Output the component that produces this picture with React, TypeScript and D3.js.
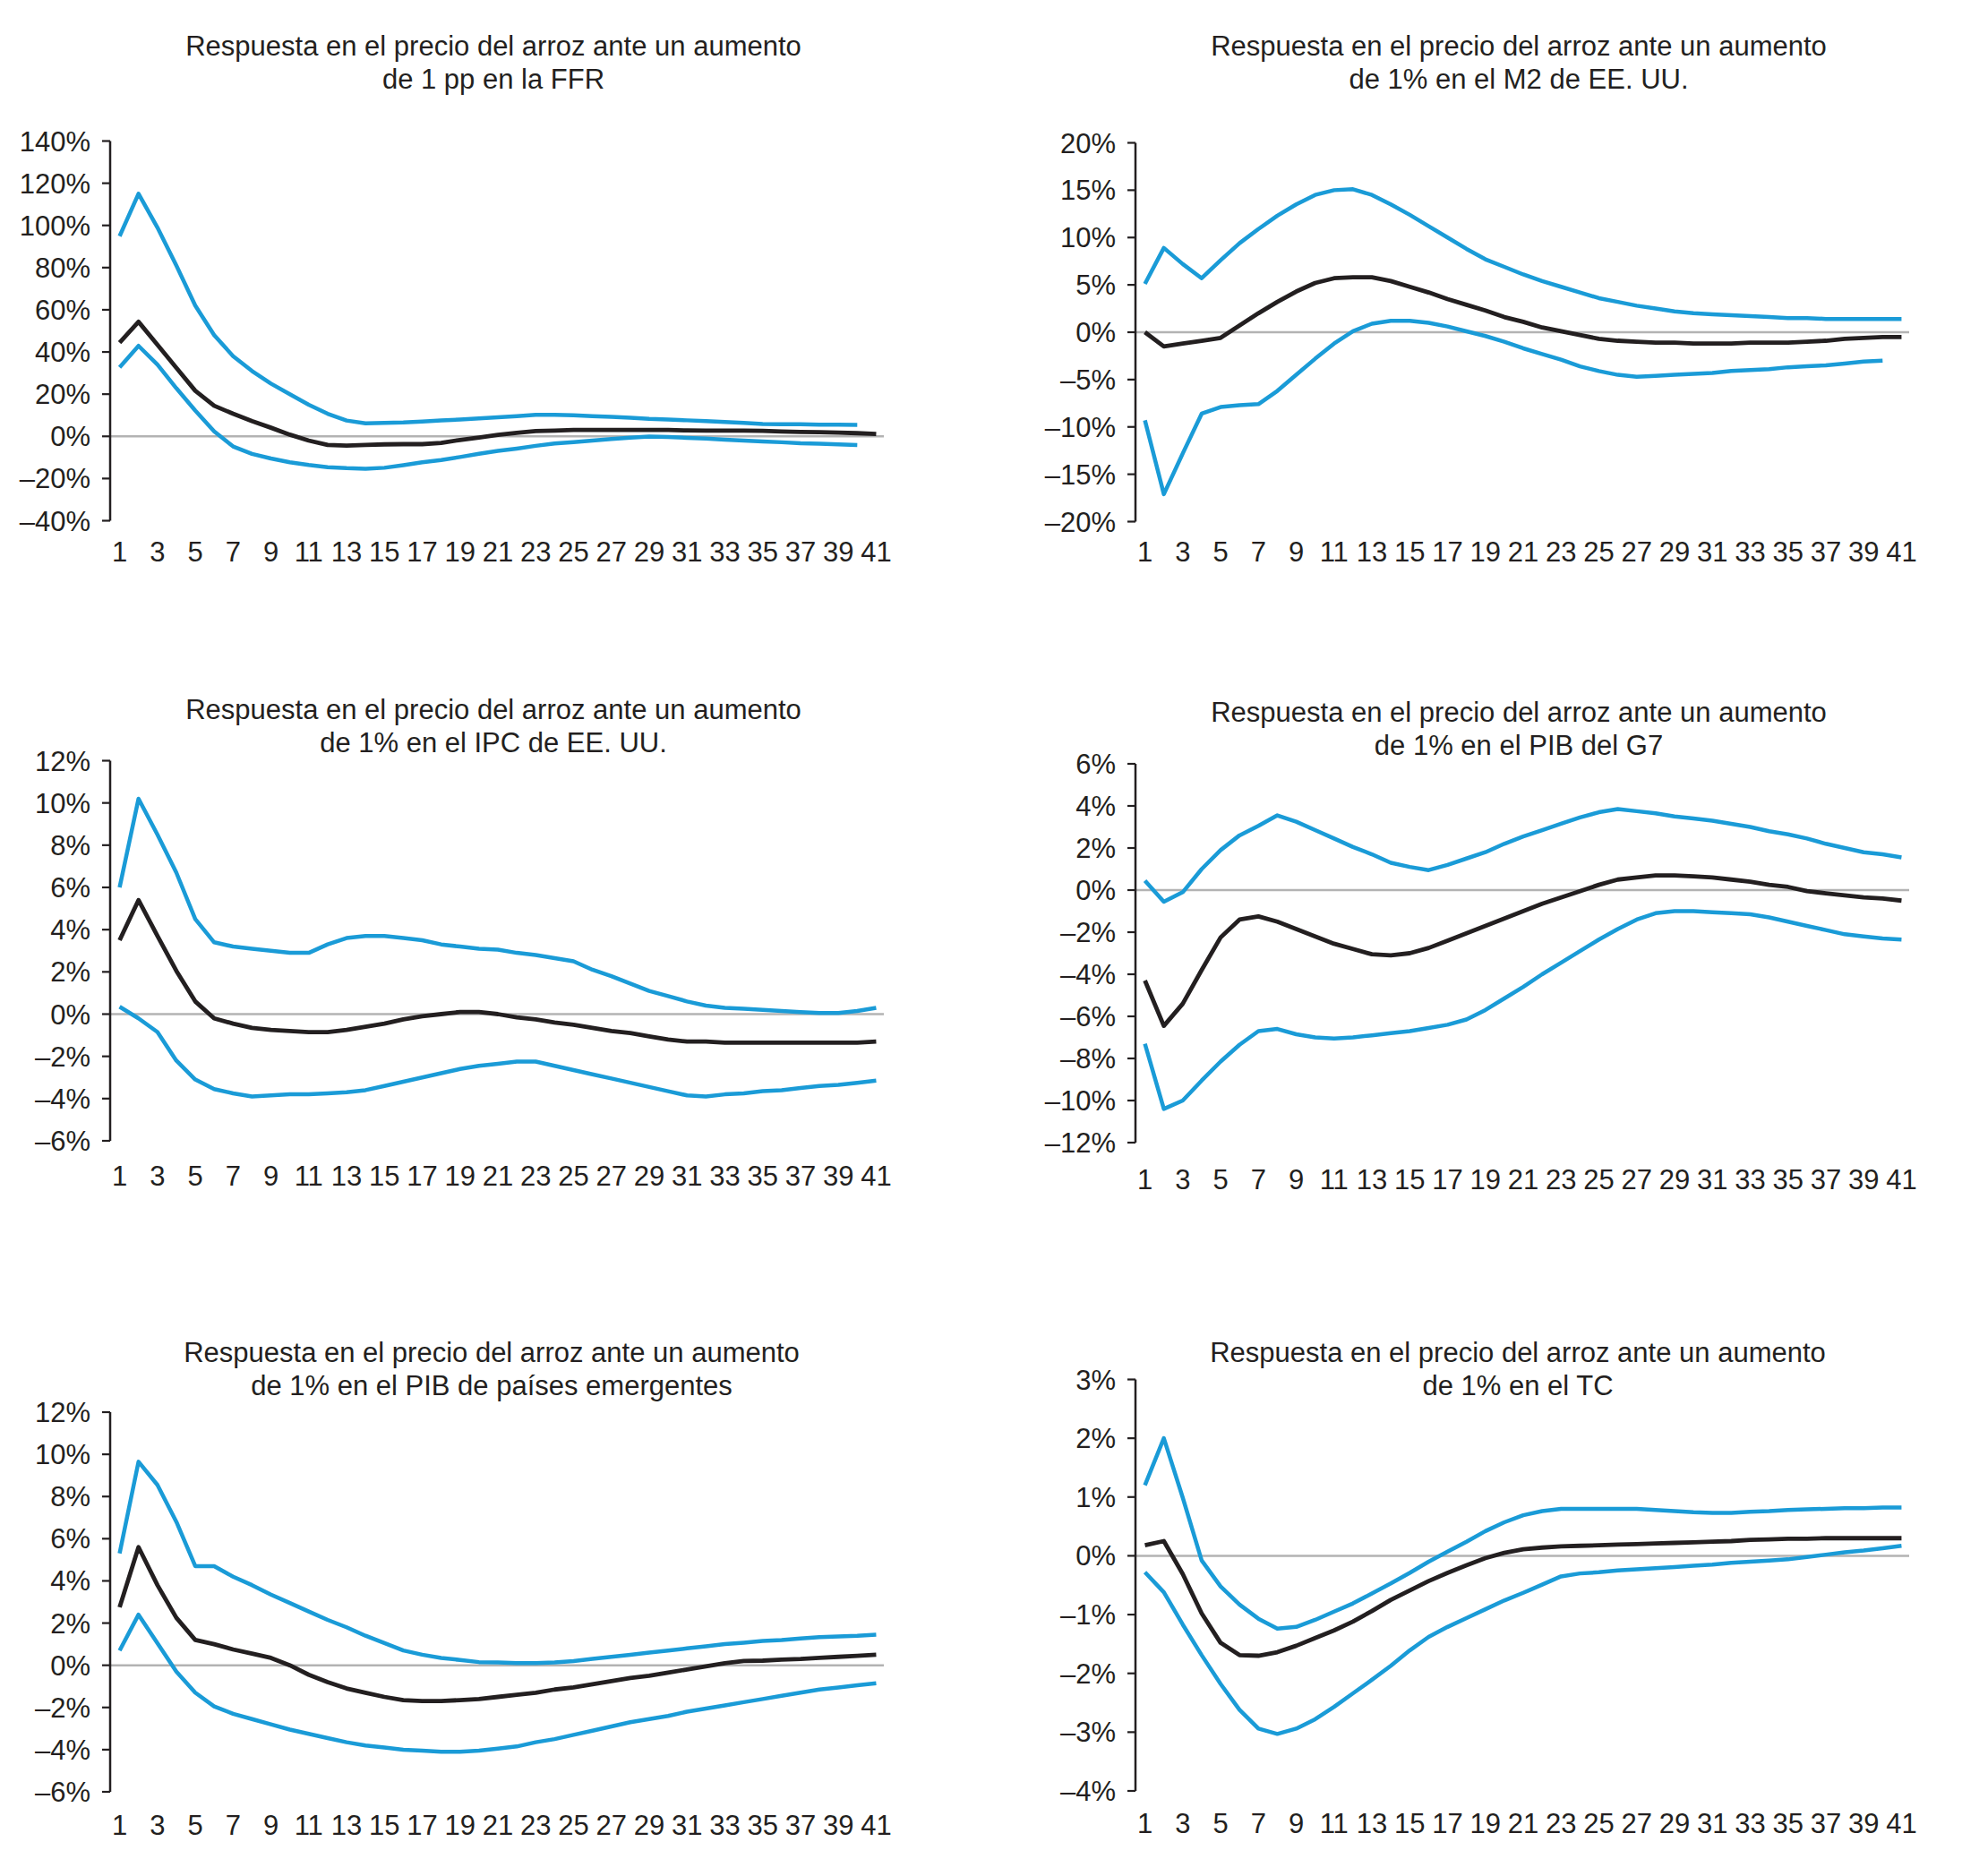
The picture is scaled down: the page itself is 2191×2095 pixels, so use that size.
import { scaleLinear, scalePoint, line, curveLinear, range } from "d3";

// horizon 1..41, odd labels only
const periods = range(1, 42);
const xTickLabels = periods.filter((p) => p % 2 === 1);

// --- FFR ---
const ffrUpper = [94.9, 115, 99, 81, 62, 48, 38, 31, 25, 20, 15, 10.7, 7.5, 6.2, 6.4, 6.6, 7, 7.5, 8, 8.5, 9, 9.6, 10.2, 10.2, 10, 9.6, 9.2, 8.8, 8.3, 8, 7.6, 7.2, 6.8, 6.4, 5.9, 5.7, 5.7, 5.5, 5.5, 5.4];
const ffrMid = [44.4, 54.3, 43.4, 32.5, 21.6, 14.5, 10.7, 7.2, 4.1, 0.8, -2, -4.1, -4.4, -4.1, -3.8, -3.7, -3.7, -3.1, -1.7, -0.6, 0.7, 1.7, 2.5, 2.7, 3, 3, 3, 3, 3, 3, 2.8, 2.7, 2.7, 2.7, 2.6, 2.3, 2.1, 2, 1.8, 1.5, 1.1];
const ffrLower = [32.7, 42.9, 34, 22.8, 12.2, 2.3, -4.8, -8.3, -10.5, -12.3, -13.6, -14.6, -15.1, -15.4, -14.9, -13.7, -12.3, -11.2, -9.8, -8.3, -6.9, -5.8, -4.5, -3.4, -2.7, -2, -1.3, -0.6, -0.1, -0.3, -0.7, -1.1, -1.6, -2, -2.4, -2.8, -3.3, -3.5, -3.8, -4.1];

// --- M2 ---
const m2Upper = [5.1, 8.9, 7.2, 5.7, 7.6, 9.4, 10.9, 12.3, 13.5, 14.5, 15, 15.1, 14.5, 13.5, 12.4, 11.2, 10, 8.8, 7.7, 6.9, 6.1, 5.4, 4.8, 4.2, 3.6, 3.2, 2.8, 2.5, 2.2, 2, 1.9, 1.8, 1.7, 1.6, 1.5, 1.5, 1.4, 1.4, 1.4, 1.4, 1.4];
const m2Mid = [0, -1.5, -1.2, -0.9, -0.6, 0.7, 2, 3.2, 4.3, 5.2, 5.7, 5.8, 5.8, 5.4, 4.8, 4.2, 3.5, 2.9, 2.3, 1.6, 1.1, 0.5, 0.1, -0.3, -0.7, -0.9, -1, -1.1, -1.1, -1.2, -1.2, -1.2, -1.1, -1.1, -1.1, -1, -0.9, -0.7, -0.6, -0.5, -0.5];
const m2Lower = [-9.3, -17.1, -12.8, -8.6, -7.9, -7.7, -7.6, -6.2, -4.5, -2.8, -1.2, 0.1, 0.9, 1.2, 1.2, 1, 0.6, 0.1, -0.4, -1, -1.7, -2.3, -2.9, -3.6, -4.1, -4.5, -4.7, -4.6, -4.5, -4.4, -4.3, -4.1, -4, -3.9, -3.7, -3.6, -3.5, -3.3, -3.1, -3];

// --- IPC ---
const ipcUpper = [6, 10.2, 8.5, 6.7, 4.5, 3.4, 3.2, 3.1, 3, 2.9, 2.9, 3.3, 3.6, 3.7, 3.7, 3.6, 3.5, 3.3, 3.2, 3.1, 3.05, 2.9, 2.8, 2.65, 2.5, 2.1, 1.8, 1.45, 1.1, 0.85, 0.6, 0.4, 0.3, 0.25, 0.2, 0.15, 0.1, 0.05, 0.05, 0.15, 0.3];
const ipcMid = [3.5, 5.4, 3.7, 2.05, 0.6, -0.2, -0.45, -0.65, -0.75, -0.8, -0.85, -0.85, -0.75, -0.6, -0.45, -0.25, -0.1, 0, 0.1, 0.1, 0, -0.15, -0.25, -0.4, -0.5, -0.65, -0.8, -0.9, -1.05, -1.2, -1.3, -1.3, -1.35, -1.35, -1.35, -1.35, -1.35, -1.35, -1.35, -1.35, -1.3];
const ipcLower = [0.35, -0.2, -0.85, -2.2, -3.1, -3.55, -3.75, -3.9, -3.85, -3.8, -3.8, -3.75, -3.7, -3.6, -3.4, -3.2, -3, -2.8, -2.6, -2.45, -2.35, -2.25, -2.25, -2.45, -2.65, -2.85, -3.05, -3.25, -3.45, -3.65, -3.85, -3.9, -3.8, -3.75, -3.65, -3.6, -3.5, -3.4, -3.35, -3.25, -3.15];

// --- PIB G7 ---
const g7Upper = [0.45, -0.55, -0.1, 1, 1.9, 2.6, 3.05, 3.55, 3.25, 2.85, 2.45, 2.05, 1.7, 1.3, 1.1, 0.95, 1.2, 1.5, 1.8, 2.2, 2.55, 2.85, 3.15, 3.45, 3.7, 3.85, 3.75, 3.65, 3.5, 3.4, 3.3, 3.15, 3, 2.8, 2.65, 2.45, 2.2, 2, 1.8, 1.7, 1.55];
const g7Mid = [-4.3, -6.45, -5.4, -3.8, -2.25, -1.4, -1.25, -1.5, -1.85, -2.2, -2.55, -2.8, -3.05, -3.1, -3, -2.75, -2.4, -2.05, -1.7, -1.35, -1, -0.65, -0.35, -0.05, 0.25, 0.5, 0.6, 0.7, 0.7, 0.65, 0.6, 0.5, 0.4, 0.25, 0.15, -0.05, -0.15, -0.25, -0.35, -0.4, -0.5];
const g7Lower = [-7.3, -10.4, -10, -9.05, -8.15, -7.35, -6.7, -6.6, -6.85, -7, -7.05, -7, -6.9, -6.8, -6.7, -6.55, -6.4, -6.15, -5.7, -5.15, -4.6, -4, -3.45, -2.9, -2.35, -1.85, -1.4, -1.1, -1, -1, -1.05, -1.1, -1.15, -1.3, -1.5, -1.7, -1.9, -2.1, -2.2, -2.3, -2.35];

// --- PIB emergentes ---
const emUpper = [5.3, 9.65, 8.55, 6.8, 4.7, 4.7, 4.2, 3.8, 3.35, 2.95, 2.55, 2.15, 1.8, 1.4, 1.05, 0.7, 0.5, 0.35, 0.25, 0.15, 0.13, 0.1, 0.1, 0.13, 0.2, 0.3, 0.4, 0.5, 0.6, 0.7, 0.8, 0.9, 1, 1.07, 1.15, 1.2, 1.27, 1.33, 1.37, 1.4, 1.45];
const emMid = [2.75, 5.6, 3.8, 2.25, 1.2, 1, 0.75, 0.55, 0.35, 0, -0.45, -0.8, -1.1, -1.3, -1.5, -1.65, -1.7, -1.7, -1.65, -1.6, -1.5, -1.4, -1.3, -1.15, -1.05, -0.9, -0.75, -0.6, -0.5, -0.35, -0.2, -0.05, 0.1, 0.2, 0.22, 0.27, 0.3, 0.35, 0.4, 0.45, 0.5];
const emLower = [0.7, 2.4, 1.05, -0.3, -1.3, -1.95, -2.3, -2.55, -2.8, -3.05, -3.25, -3.45, -3.65, -3.8, -3.9, -4, -4.05, -4.1, -4.1, -4.05, -3.95, -3.85, -3.65, -3.5, -3.3, -3.1, -2.9, -2.7, -2.55, -2.4, -2.2, -2.05, -1.9, -1.75, -1.6, -1.45, -1.3, -1.15, -1.05, -0.95, -0.85];

// --- TC ---
const tcUpper = [1.2, 2, 0.99, -0.08, -0.52, -0.83, -1.07, -1.24, -1.21, -1.09, -0.95, -0.81, -0.64, -0.47, -0.29, -0.1, 0.07, 0.24, 0.42, 0.57, 0.69, 0.76, 0.8, 0.8, 0.8, 0.8, 0.8, 0.78, 0.76, 0.74, 0.73, 0.73, 0.75, 0.76, 0.78, 0.79, 0.8, 0.81, 0.81, 0.82, 0.82];
const tcMid = [0.18, 0.25, -0.31, -0.98, -1.48, -1.69, -1.7, -1.64, -1.53, -1.4, -1.27, -1.12, -0.94, -0.75, -0.59, -0.43, -0.29, -0.16, -0.04, 0.05, 0.11, 0.14, 0.16, 0.17, 0.18, 0.19, 0.2, 0.21, 0.22, 0.23, 0.24, 0.25, 0.27, 0.28, 0.29, 0.29, 0.3, 0.3, 0.3, 0.3, 0.3];
const tcLower = [-0.28, -0.62, -1.17, -1.69, -2.18, -2.62, -2.94, -3.03, -2.94, -2.78, -2.57, -2.34, -2.11, -1.87, -1.61, -1.38, -1.21, -1.06, -0.91, -0.76, -0.63, -0.49, -0.35, -0.3, -0.28, -0.25, -0.23, -0.21, -0.19, -0.17, -0.15, -0.12, -0.1, -0.08, -0.06, -0.02, 0.02, 0.06, 0.09, 0.13, 0.17];

const titleHead = "Respuesta en el precio del arroz ante un aumento";
const titleTails = [
  "de 1 pp en la FFR",
  "de 1% en el M2 de EE. UU.",
  "de 1% en el IPC de EE. UU.",
  "de 1% en el PIB del G7",
  "de 1% en el PIB de países emergentes",
  "de 1% en el TC",
];
const yTicks = [
  range(-40, 141, 20),
  range(-20, 21, 5),
  range(-6, 13, 2),
  range(-12, 7, 2),
  range(-6, 13, 2),
  range(-4, 4, 1),
];
const series = [
  [ffrUpper, ffrLower, ffrMid],
  [m2Upper, m2Lower, m2Mid],
  [ipcUpper, ipcLower, ipcMid],
  [g7Upper, g7Lower, g7Mid],
  [emUpper, emLower, emMid],
  [tcUpper, tcLower, tcMid],
];

// where each panel sits on the page
const layouts = [
  { left: 123, top: 157.5, bottom: 581.5, labelY: 616, titleX: 551, titleY: 62 },
  { left: 1268, top: 159.5, bottom: 582.5, labelY: 616, titleX: 1696, titleY: 62 },
  { left: 123, top: 849.5, bottom: 1274, labelY: 1313, titleX: 551, titleY: 803 },
  { left: 1268, top: 853, bottom: 1276, labelY: 1317, titleX: 1696, titleY: 806 },
  { left: 123, top: 1577, bottom: 2001, labelY: 2038, titleX: 549, titleY: 1521 },
  { left: 1268, top: 1540.5, bottom: 2000, labelY: 2036, titleX: 1695, titleY: 1521 },
];

const W = 2191;
const H = 2095;
const plotW = 866;
const BLUE = "#1a9bd7";
const INK = "#231f20";
const FONT = "'Liberation Sans', Arial, Helvetica, sans-serif";
const FS = 31;

const fmt = (v: number) => (v < 0 ? `\u2013${-v}%` : `${v}%`);

function Panel({ idx }: { idx: number }) {
  const lay = layouts[idx];
  const ticks = yTicks[idx];
  const x = scalePoint<number>().domain(periods).range([lay.left, lay.left + plotW]).padding(0.5);
  const y = scaleLinear().domain([ticks[0], ticks[ticks.length - 1]]).range([lay.bottom, lay.top]);
  const gen = line<number>()
    .x((_, i) => x(i + 1)!)
    .y((d) => y(d))
    .curve(curveLinear);
  const [up, lo, mid] = series[idx];

  return (
    <g>
      <text x={lay.titleX} textAnchor="middle" fontSize={FS} fill={INK}>
        <tspan x={lay.titleX} y={lay.titleY}>{titleHead}</tspan>
        <tspan x={lay.titleX} y={lay.titleY + 37}>{titleTails[idx]}</tspan>
      </text>

      <line x1={lay.left} x2={lay.left + plotW - 2} y1={y(0)} y2={y(0)} stroke="#b3b3b3" strokeWidth={2.5} />
      <line x1={lay.left} x2={lay.left} y1={lay.top} y2={lay.bottom} stroke={INK} strokeWidth={2.5} />
      {ticks.map((t) => (
        <g key={t}>
          <line x1={lay.left - 9} x2={lay.left} y1={y(t)} y2={y(t)} stroke={INK} strokeWidth={2.2} />
          <text x={lay.left - 22} y={y(t) + 11} textAnchor="end" fontSize={FS} fill={INK}>
            {fmt(t)}
          </text>
        </g>
      ))}
      {xTickLabels.map((p) => (
        <text key={p} x={x(p)} y={lay.labelY + 11} textAnchor="middle" fontSize={FS} fill={INK}>
          {p}
        </text>
      ))}

      <path d={gen(lo) ?? ""} fill="none" stroke={BLUE} strokeWidth={4.5} strokeLinejoin="round" />
      <path d={gen(up) ?? ""} fill="none" stroke={BLUE} strokeWidth={4.5} strokeLinejoin="round" />
      <path d={gen(mid) ?? ""} fill="none" stroke={INK} strokeWidth={4.8} strokeLinejoin="round" />
    </g>
  );
}

export default function App() {
  return (
    <svg
      width={W}
      height={H}
      viewBox={`0 0 ${W} ${H}`}
      style={{ position: "absolute", left: 0, top: 0, background: "#fff" }}
      fontFamily={FONT}
    >
      <rect width={W} height={H} fill="#fff" />
      {layouts.map((_, i) => (
        <Panel key={i} idx={i} />
      ))}
    </svg>
  );
}
